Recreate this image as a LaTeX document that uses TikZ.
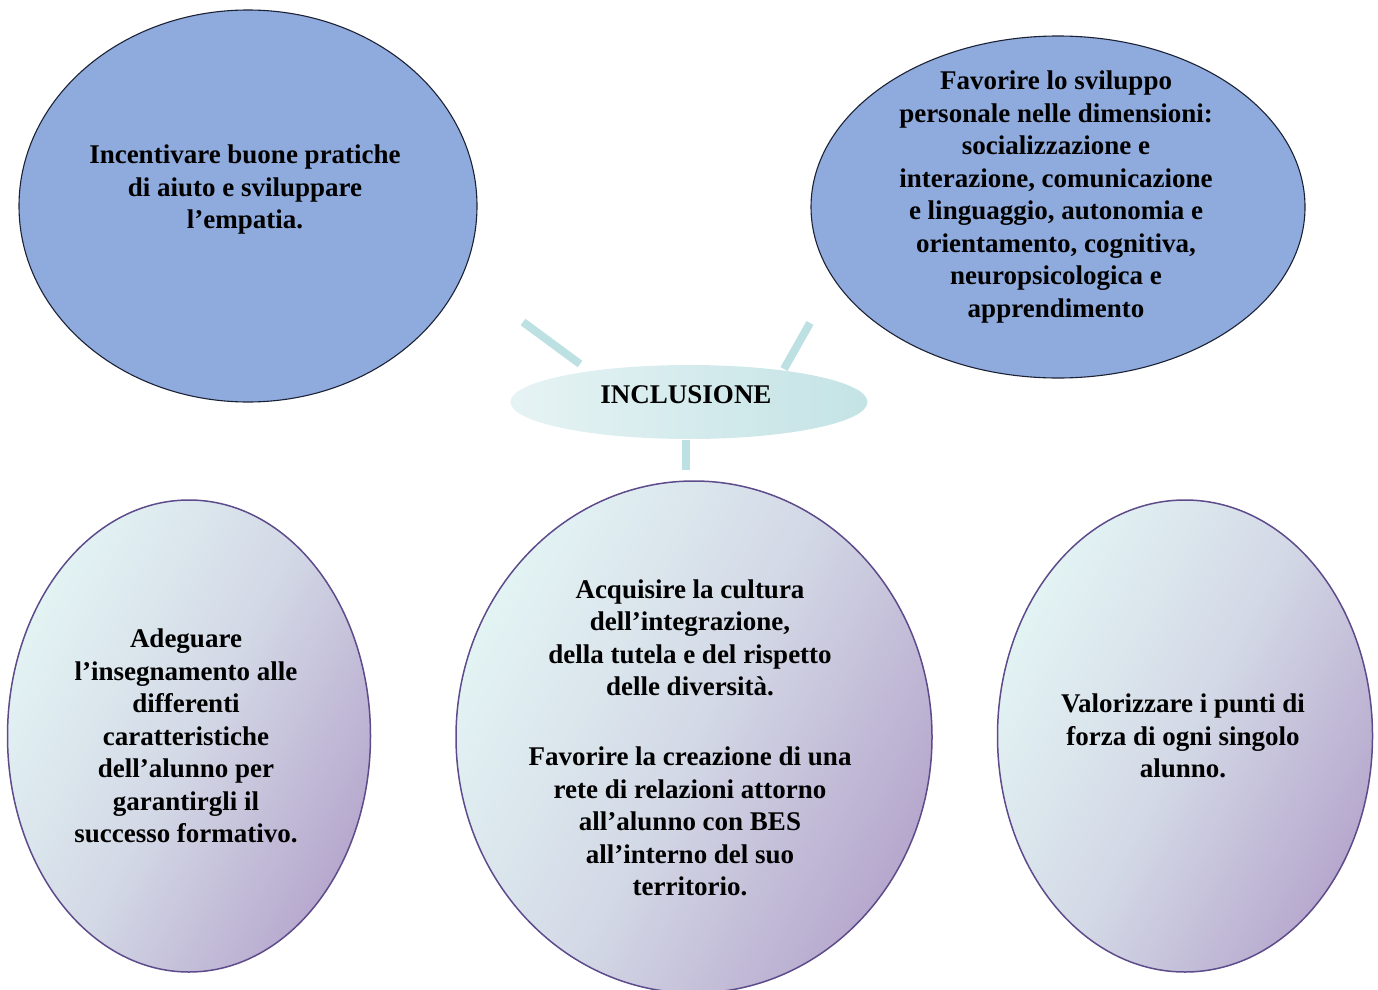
\documentclass[tikz,border=0pt]{standalone}
\usepackage{fontspec}
\setmainfont{Liberation Serif}
\usetikzlibrary{shapes.geometric}
\definecolor{topfill}{HTML}{8FAADC}
\definecolor{topline}{HTML}{1C2236}
\definecolor{lowline}{HTML}{5E4B8B}
\definecolor{mintA}{HTML}{E3F4F4}
\definecolor{mintB}{HTML}{D3D9E6}
\definecolor{lavA}{HTML}{B6A7CD}
\definecolor{hubA}{HTML}{E6F3F4}
\definecolor{hubB}{HTML}{C4E3E5}
\definecolor{spoke}{HTML}{BDE1E3}
\tikzset{
  goal/.style={ellipse, inner sep=0pt, fill=topfill, draw=topline, line width=1.1pt},
  aim/.style={ellipse, inner sep=0pt, draw=lowline, line width=1.5pt,
    top color=mintA, bottom color=lavA, middle color=mintB, shading angle=62},
  hub/.style={ellipse, inner sep=0pt, left color=hubA, right color=hubB},
  words/.style={align=center, inner sep=0pt, font=\bfseries\fontsize{27}{32.5}\selectfont},
  spokeline/.style={draw=spoke, line width=8pt}
}
\begin{document}
\begin{tikzpicture}[x=1pt, y=-1pt]
\useasboundingbox (0,0) rectangle (1378,990);

% outer ellipses
\node[goal, minimum width=458, minimum height=392] (tl) at (248,206) {};
\node[goal, minimum width=494, minimum height=342] (tr) at (1058,207) {};
\node[aim, minimum width=363, minimum height=472] (bl) at (189,736) {};
\node[aim, minimum width=476, minimum height=512] (bc) at (694,737) {};
\node[aim, minimum width=375, minimum height=472] (br) at (1185,736) {};

% central hub
\node[hub, minimum width=357, minimum height=74] (hubshape) at (689,402) {};
\node[words] (hubtext) at (686,395) {INCLUSIONE};

% spokes
\coordinate (s1a) at (523,322);
\coordinate (s1b) at (580,364);
\coordinate (s2a) at (810,323);
\coordinate (s2b) at (784,369);
\coordinate (s3a) at (686,440);
\coordinate (s3b) at (686,470);
\draw[spokeline] (s1a) -- (s1b);
\draw[spokeline] (s2a) -- (s2b);
\draw[spokeline] (s3a) -- (s3b);

% texts
\node[words] (tltext) at (245,190) {Incentivare buone pratiche\\di aiuto e sviluppare\\l’empatia.};
\node[words] (trtext) at (1056,197) {Favorire lo sviluppo\\personale nelle dimensioni:\\socializzazione e\\interazione, comunicazione\\e linguaggio, autonomia e\\orientamento, cognitiva,\\neuropsicologica e\\apprendimento};
\node[words] (bltext) at (186,736) {Adeguare\\l’insegnamento alle\\differenti\\caratteristiche\\dell’alunno per\\garantirgli il\\successo formativo.};
\node[words] (bctext) at (690,738) {Acquisire la cultura\\dell’integrazione,\\della tutela e del rispetto\\delle diversità.\\[37.5pt]Favorire la creazione di una\\rete di relazioni attorno\\all’alunno con BES\\all’interno del suo\\territorio.};
\node[words] (brtext) at (1183,736) {Valorizzare i punti di\\forza di ogni singolo\\alunno.};
\end{tikzpicture}
\end{document}
